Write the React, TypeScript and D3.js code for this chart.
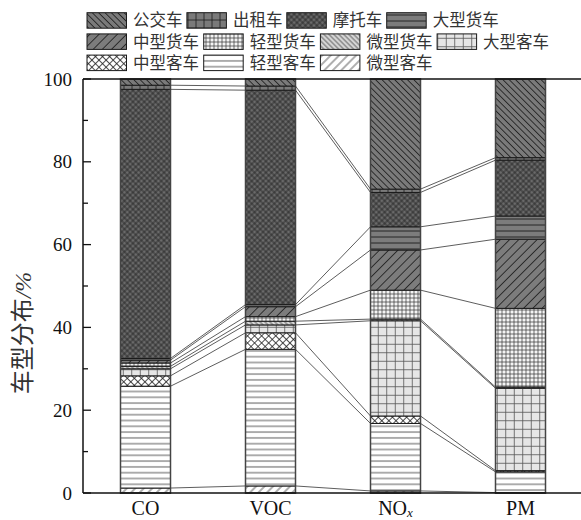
import React from 'react';
import * as d3 from 'd3';

const categories = ['CO', 'VOC', 'NOx', 'PM'];
const seriesNames = ['微型客车', '轻型客车', '中型客车', '大型客车', '微型货车', '轻型货车', '中型货车', '大型货车', '摩托车', '出租车', '公交车'];
const coValues = [1.2, 24.6, 2.5, 1.7, 0.6, 0.8, 0.7, 0.4, 65.0, 1.0, 1.5];
const vocValues = [1.7, 33.0, 4.0, 1.9, 0.9, 1.1, 2.4, 0.5, 51.8, 1.0, 1.7];
const noxValues = [0.5, 16.3, 1.8, 23.0, 0.4, 7.0, 9.7, 5.6, 8.3, 0.8, 26.6];
const pmValues = [0.1, 5.0, 0.3, 19.9, 0.3, 19.0, 16.7, 5.6, 13.5, 0.6, 19.0];
const yTicks = [0, 20, 40, 60, 80, 100];
const yMinorTicks = [10, 30, 50, 70, 90];
const yLabel = '车型分布';

type PatStyle = { kind: 'lines' | 'grid'; angle: number; sp: number; fill: string; stroke: string; sw: number };
const patStyles: Record<string, PatStyle> = {
  '公交车': { kind: 'lines', angle: 45, sp: 4.5, fill: '#7a7a7a', stroke: '#1a1a1a', sw: 0.8 },
  '出租车': { kind: 'grid', angle: 0, sp: 8, fill: '#7a7a7a', stroke: '#1a1a1a', sw: 0.8 },
  '摩托车': { kind: 'grid', angle: 45, sp: 4, fill: '#6a6a6a', stroke: '#1a1a1a', sw: 0.7 },
  '大型货车': { kind: 'lines', angle: 0, sp: 6, fill: '#7c7c7c', stroke: '#1a1a1a', sw: 0.9 },
  '中型货车': { kind: 'lines', angle: -45, sp: 6.5, fill: '#7c7c7c', stroke: '#1a1a1a', sw: 0.8 },
  '轻型货车': { kind: 'grid', angle: 0, sp: 4, fill: '#f4f4f4', stroke: '#333', sw: 0.7 },
  '微型货车': { kind: 'lines', angle: 45, sp: 3.5, fill: '#d8d8d8', stroke: '#333', sw: 0.7 },
  '大型客车': { kind: 'grid', angle: 0, sp: 8.5, fill: '#e6e6e6', stroke: '#555', sw: 0.8 },
  '中型客车': { kind: 'grid', angle: 45, sp: 5, fill: '#ffffff', stroke: '#222', sw: 0.8 },
  '轻型客车': { kind: 'lines', angle: 0, sp: 5.8, fill: '#ffffff', stroke: '#333', sw: 0.8 },
  '微型客车': { kind: 'lines', angle: -45, sp: 6, fill: '#ffffff', stroke: '#333', sw: 0.8 },
};

const W = 581;
const H = 520;
const plotLeft = 83;
const plotRight = 583;
const plotTop = 79;
const plotBottom = 493;

function Pattern({ id, s }: { id: string; s: PatStyle }) {
  return (
    <pattern id={id} width={s.sp} height={s.sp} patternUnits="userSpaceOnUse" patternTransform={`rotate(${s.angle})`}>
      <rect width={s.sp} height={s.sp} fill={s.fill} />
      <line x1={0} y1={s.sp / 2} x2={s.sp} y2={s.sp / 2} stroke={s.stroke} strokeWidth={s.sw} />
      {s.kind === 'grid' && <line x1={s.sp / 2} y1={0} x2={s.sp / 2} y2={s.sp} stroke={s.stroke} strokeWidth={s.sw} />}
    </pattern>
  );
}

export default function App() {
  const valuesByCat: Record<string, number[]> = { CO: coValues, VOC: vocValues, NOx: noxValues, PM: pmValues };
  const rows = categories.map((c) => {
    const r: Record<string, any> = { cat: c };
    seriesNames.forEach((n, i) => (r[n] = valuesByCat[c][i]));
    return r;
  });
  const stacked = d3.stack<any>().keys(seriesNames)(rows);
  const x = d3.scaleBand<string>().domain(categories).range([plotLeft, plotRight]).paddingInner(0.6).paddingOuter(0.3);
  const y = d3.scaleLinear().domain([0, 100]).range([plotBottom, plotTop]);
  const bw = x.bandwidth();
  const pid = (n: string) => 'pat' + seriesNames.indexOf(n);

  // legend layout (reverse of stack order), rows of 4
  const legendOrder = [...seriesNames].reverse();
  const charW = 16.8;
  const legendItems = legendOrder.map((name, i) => ({ name, row: Math.floor(i / 4), col: i % 4 }));
  const legendPos: { name: string; x: number; y: number }[] = [];
  const rowX: number[] = [87, 87, 87];
  legendItems.forEach((it) => {
    const lx = rowX[it.row];
    legendPos.push({ name: it.name, x: lx, y: 12.7 + it.row * 21.2 });
    rowX[it.row] = lx + 40 + 6 + it.name.length * charW + 3.5;
  });

  return (
    <svg width={W} height={H} style={{ position: 'absolute', left: 0, top: 0 }}>
      <defs>
        {seriesNames.map((n) => (
          <Pattern key={n} id={pid(n)} s={patStyles[n]} />
        ))}
      </defs>
      <rect width={W} height={H} fill="#fff" />

      {/* bars */}
      {stacked.map((layer) => (
        <g key={layer.key}>
          {layer.map((d: any) => (
            <rect
              key={d.data.cat}
              x={x(d.data.cat)}
              y={y(d[1])}
              width={bw}
              height={Math.max(0, y(d[0]) - y(d[1]))}
              fill={`url(#${pid(layer.key)})`}
              stroke="#1a1a1a"
              strokeWidth={1}
            />
          ))}
        </g>
      ))}
      {categories.map((c) => (
        <rect key={c} x={x(c)} y={y(100)} width={bw} height={y(0) - y(100)} fill="none" stroke="#444" strokeWidth={1.5} />
      ))}

      {/* connecting lines */}
      {stacked.slice(0, stacked.length - 1).map((layer) => (
        <g key={'c' + layer.key}>
          {categories.slice(0, -1).map((c, i) => {
            const a = layer[i];
            const b = layer[i + 1];
            return (
              <line
                key={c}
                x1={(x(c) as number) + bw}
                y1={y(a[1])}
                x2={x(categories[i + 1]) as number}
                y2={y(b[1])}
                stroke="#333"
                strokeWidth={0.8}
              />
            );
          })}
        </g>
      ))}

      {/* axes frame */}
      <line x1={plotLeft} y1={plotTop} x2={plotLeft} y2={plotBottom} stroke="#111" strokeWidth={1.5} />
      <line x1={plotLeft} y1={plotBottom} x2={W} y2={plotBottom} stroke="#111" strokeWidth={1.5} />
      <line x1={plotLeft} y1={plotTop} x2={W} y2={plotTop} stroke="#111" strokeWidth={1.5} />
      {yTicks.map((t) => (
        <g key={t}>
          <line x1={plotLeft} x2={plotLeft + 8} y1={y(t)} y2={y(t)} stroke="#111" strokeWidth={1.3} />
          <text x={72} y={y(t)} dy="0.35em" textAnchor="end" fontFamily="'Liberation Serif', serif" fontSize={19} fill="#111">
            {t}
          </text>
        </g>
      ))}
      {yMinorTicks.map((t) => (
        <line key={t} x1={plotLeft} x2={plotLeft + 5} y1={y(t)} y2={y(t)} stroke="#111" strokeWidth={1.3} />
      ))}
      {categories.map((c) => (
        <text key={c} x={(x(c) as number) + bw / 2} y={515} textAnchor="middle" fontFamily="'Liberation Serif', serif" fontSize={20} fill="#111">
          {c === 'NOx' ? (
            <>
              NO<tspan fontStyle="italic" fontSize={13} dy={2}>x</tspan>
            </>
          ) : (
            c
          )}
        </text>
      ))}
      <text
        transform={`translate(31, 333) rotate(-90)`}
        textAnchor="middle"
        fontFamily="'Noto Sans CJK SC', sans-serif"
        fontSize={24}
        fill="#333"
      >
        {yLabel}
        <tspan fontFamily="'Liberation Serif', serif" fontStyle="italic">/%</tspan>
      </text>

      {/* legend */}
      {legendPos.map((p) => (
        <g key={p.name}>
          <rect x={p.x} y={p.y} width={39.5} height={15.5} fill={`url(#${pid(p.name)})`} stroke="#1a1a1a" strokeWidth={1} />
          <text x={p.x + 46} y={p.y + 7.8} dy="0.36em" fontFamily="'Noto Sans CJK SC', sans-serif" fontSize={16.5} fill="#333">
            {p.name}
          </text>
        </g>
      ))}
    </svg>
  );
}
